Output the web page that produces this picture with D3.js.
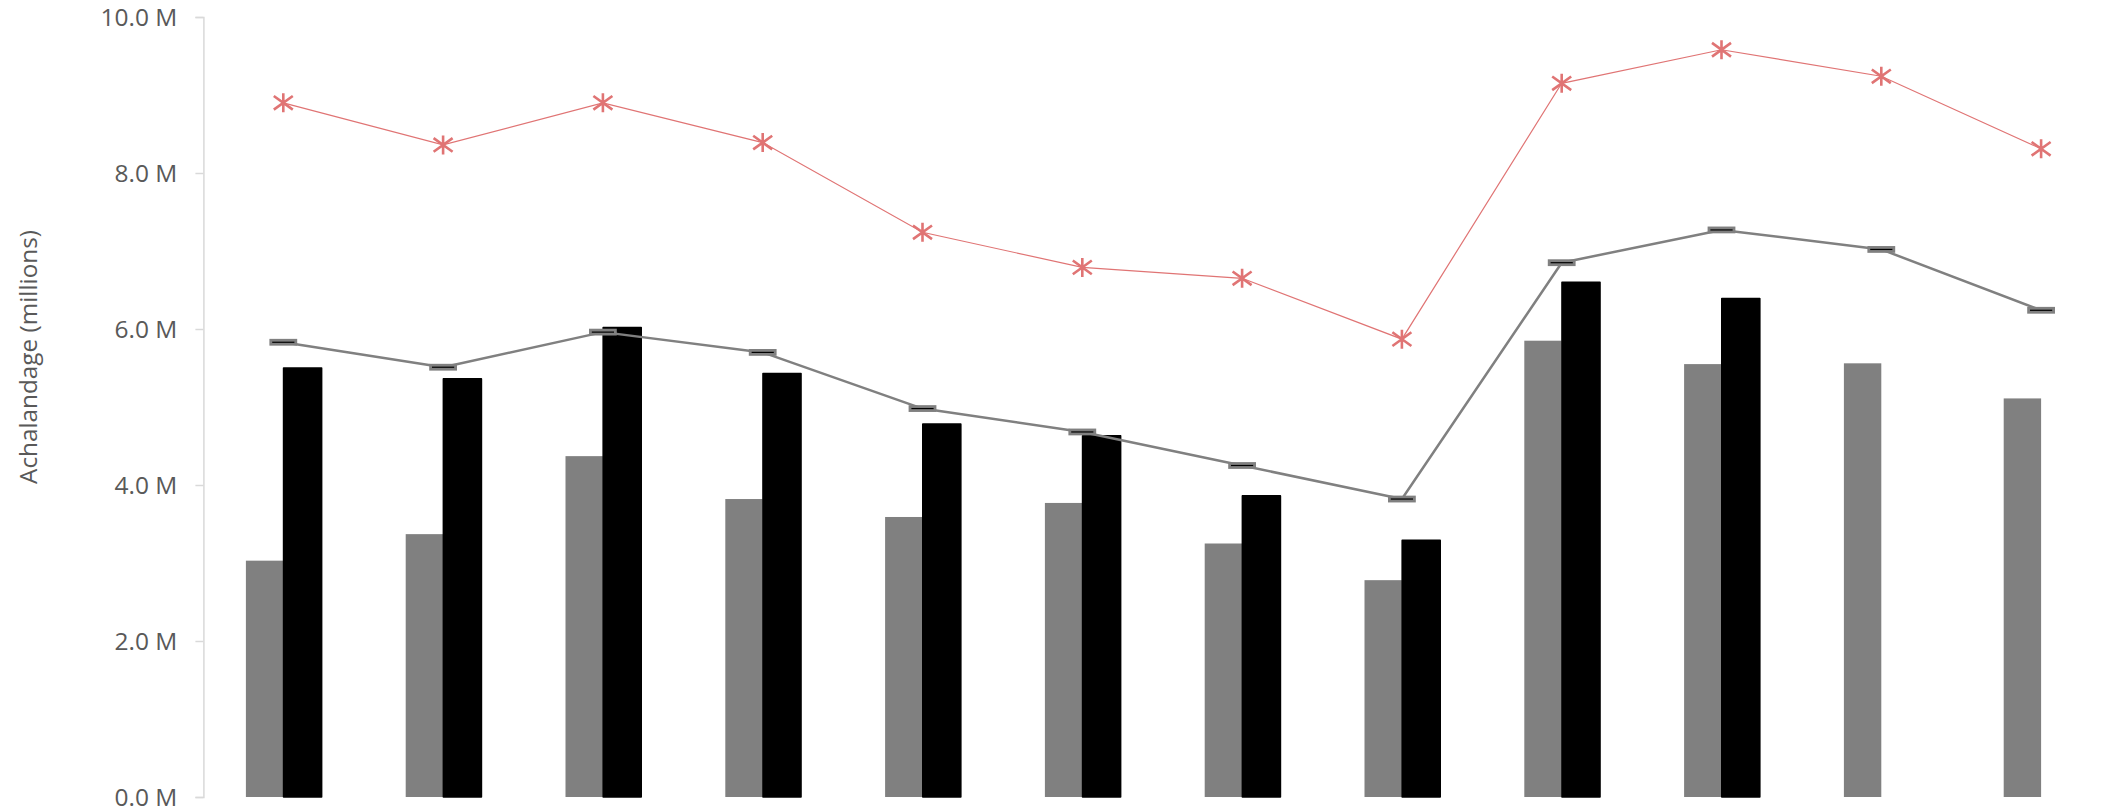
<!DOCTYPE html>
<html>
<head>
<meta charset="utf-8">
<script src="https://cdn.jsdelivr.net/npm/d3@7/dist/d3.min.js"></script>
<style>
  html, body { margin: 0; padding: 0; background: #ffffff; }
  svg { display: block; }
  text { font-family: "Open Sans", "Liberation Sans", sans-serif; }
</style>
</head>
<body>
<div id="chart"></div>
<script>
// ---- Data (millions) ----
const categories = ["janv.", "févr.", "mars", "avr.", "mai", "juin", "juil.", "août", "sept.", "oct.", "nov.", "déc."];
const seriesGray  = [3.03, 3.37, 4.37, 3.82, 3.59, 3.77, 3.25, 2.78, 5.85, 5.55, 5.56, 5.11];
const seriesBlack = [5.50, 5.36, 6.02, 5.43, 4.78, 4.63, 3.86, 3.29, 6.60, 6.39, null, null];
const seriesLine  = [5.83, 5.51, 5.96, 5.70, 4.98, 4.68, 4.25, 3.82, 6.85, 7.27, 7.02, 6.24];
const seriesStar  = [8.90, 8.36, 8.90, 8.39, 7.24, 6.79, 6.65, 5.87, 9.15, 9.58, 9.24, 8.31];
const yTicks = [0, 2, 4, 6, 8, 10];
const yTitle = "Achalandage (millions)";

// ---- Layout ----
const W = 2113, H = 809;
const mLeft = 203.4, mTop = 17, mBottom = 797;
const step = 159.8;
const mRight = mLeft + step * categories.length;

const svg = d3.select("#chart").append("svg")
  .attr("width", W).attr("height", H)
  .attr("viewBox", `0 0 ${W} ${H}`);

const y = d3.scaleLinear().domain([0, 10]).range([mBottom, mTop]);

const pInner = 1 - 74.8 / step;
const x0 = d3.scaleBand().domain(categories).range([mLeft, mRight])
  .paddingInner(pInner).paddingOuter(pInner / 2);
const x1 = d3.scaleBand().domain(["gray", "black"]).range([0, x0.bandwidth()]);
const cx = c => x0(c) + x0.bandwidth() / 2;

// ---- Y axis ----
const yAxis = d3.axisLeft(y).tickValues(yTicks)
  .tickSize(8).tickPadding(18)
  .tickFormat(v => d3.format(".1f")(v) + " M");
const gy = svg.append("g").attr("transform", `translate(${mLeft},0)`).call(yAxis);
gy.select(".domain").attr("stroke", "#d9d9d9").attr("stroke-width", 1.5);
gy.selectAll(".tick line").attr("stroke", "#d9d9d9").attr("stroke-width", 1.5);
gy.selectAll(".tick text").attr("fill", "#595959")
  .style("font-size", "24.5px").attr("dy", "0.34em");

svg.append("text")
  .attr("transform", "translate(37,357) rotate(-90)")
  .attr("text-anchor", "middle")
  .attr("fill", "#595959")
  .style("font-size", "24.3px")
  .text(yTitle);

// ---- Bars ----
svg.append("g").selectAll("rect")
  .data(categories.map((c, i) => ({c, v: seriesGray[i]})))
  .join("rect")
  .attr("x", d => x0(d.c) + x1("gray"))
  .attr("y", d => y(d.v))
  .attr("width", x1.bandwidth())
  .attr("height", d => y(0) - y(d.v))
  .attr("fill", "#808080");

svg.append("g").selectAll("rect")
  .data(categories.map((c, i) => ({c, v: seriesBlack[i]})).filter(d => d.v != null))
  .join("rect")
  .attr("x", d => x0(d.c) + x1("black") + 0.3)
  .attr("y", d => y(d.v))
  .attr("width", x1.bandwidth() + 0.6)
  .attr("height", d => y(0) - y(d.v))
  .attr("fill", "#000000")
  .attr("stroke", "#000000")
  .attr("stroke-width", 1.6)
  .attr("stroke-linejoin", "round");

// ---- Gray line with dash markers ----
const lineGen = d3.line().x(d => cx(d.c)).y(d => y(d.v));
const lineData = categories.map((c, i) => ({c, v: seriesLine[i]}));
svg.append("path").datum(lineData)
  .attr("d", lineGen)
  .attr("fill", "none")
  .attr("stroke", "#808080")
  .attr("stroke-width", 2.5)
  .attr("stroke-linejoin", "round");
svg.append("g").selectAll("rect")
  .data(lineData)
  .join("rect")
  .attr("x", d => cx(d.c) - 12.5)
  .attr("y", d => y(d.v) - 2)
  .attr("width", 25)
  .attr("height", 4)
  .attr("fill", "#000000")
  .attr("stroke", "#808080")
  .attr("stroke-width", 2.8);

// ---- Red line with star markers ----
const starData = categories.map((c, i) => ({c, v: seriesStar[i]}));
svg.append("path").datum(starData)
  .attr("d", lineGen)
  .attr("fill", "none")
  .attr("stroke", "#e07474")
  .attr("stroke-width", 1.2);
const s = 9.5;
const starPath = `M0,${-s}L0,${s}M${-s},${-s * 0.72}L${s},${s * 0.72}M${-s},${s * 0.72}L${s},${-s * 0.72}`;
svg.append("g").selectAll("path")
  .data(starData)
  .join("path")
  .attr("transform", d => `translate(${cx(d.c)},${y(d.v)})`)
  .attr("d", starPath)
  .attr("fill", "none")
  .attr("stroke", "#e07474")
  .attr("stroke-width", 2.6);
</script>
</body>
</html>
